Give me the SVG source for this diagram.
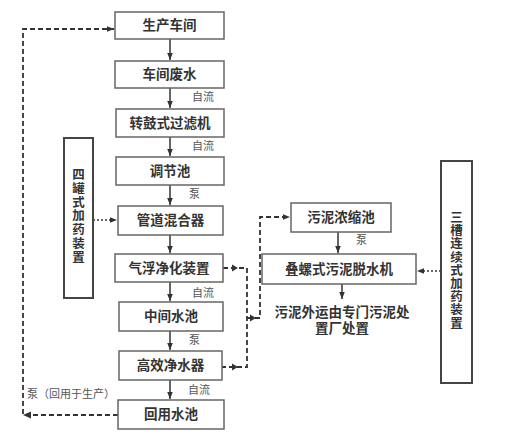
<svg xmlns="http://www.w3.org/2000/svg" width="505" height="445" viewBox="0 0 505 445">
<style>
.box{fill:#fff;stroke:#666;stroke-width:1.5}
.vbox{fill:#fff;stroke:#444;stroke-width:2}
.t{font-family:"Liberation Sans","Noto Sans CJK SC",sans-serif;font-size:13.5px;font-weight:bold;fill:#333;text-anchor:middle;dominant-baseline:central}
.vt{font-family:"Liberation Sans","Noto Sans CJK SC",sans-serif;font-size:12.5px;font-weight:bold;fill:#333;text-anchor:middle;dominant-baseline:central}
.lb{font-family:"Liberation Sans","Noto Sans CJK SC",sans-serif;font-size:11px;fill:#555;dominant-baseline:central}
.ar{fill:none;stroke:#333;stroke-width:1.5}
.dash{fill:none;stroke:#333;stroke-width:1.8;stroke-dasharray:5 3}
.dot{fill:none;stroke:#333;stroke-width:1.5;stroke-dasharray:2 2}
.head{fill:#333}
</style>
<defs>
<marker id="ah" viewBox="0 0 10 10" refX="10" refY="5" markerWidth="7" markerHeight="7" markerUnits="userSpaceOnUse" orient="auto">
<path d="M0,1 L10,5 L0,9 Z" fill="#333"/>
</marker>
</defs>
<g id="connectors">
<line class="ar" x1="170" y1="39" x2="170" y2="60" marker-end="url(#ah)"/>
<line class="ar" x1="170" y1="88" x2="170" y2="108" marker-end="url(#ah)"/>
<line class="ar" x1="170" y1="137" x2="170" y2="156" marker-end="url(#ah)"/>
<line class="ar" x1="170" y1="185" x2="170" y2="205" marker-end="url(#ah)"/>
<line class="ar" x1="170" y1="235" x2="170" y2="253" marker-end="url(#ah)"/>
<line class="ar" x1="170" y1="282" x2="170" y2="301" marker-end="url(#ah)"/>
<line class="ar" x1="170" y1="331" x2="170" y2="350" marker-end="url(#ah)"/>
<line class="ar" x1="170" y1="380" x2="170" y2="399" marker-end="url(#ah)"/>
<line class="ar" x1="338" y1="232" x2="338" y2="253" marker-end="url(#ah)"/>
<line class="ar" x1="342" y1="284" x2="342" y2="299" marker-end="url(#ah)"/>
<path class="dot" d="M93,220 H117" marker-end="url(#ah)"/>
<path class="dot" d="M441,271 H417" marker-end="url(#ah)"/>
<path class="dash" d="M118,415 H23 V29 H114" marker-end="url(#ah)"/>
<path class="head" d="M23,415 L31,411.5 L31,418.5 Z"/>
<path class="dash" d="M223,268 H247 V367 H222"/>
<path class="dash" d="M247,318 H260 V217 H290" marker-end="url(#ah)"/>
<path class="head" d="M238,268 L232,264.5 L232,271.5 Z"/>
<path class="head" d="M238,367 L232,363.5 L232,370.5 Z"/>
<path class="head" d="M256,318 L250,314.5 L250,321.5 Z"/>
</g>
<g id="n1"><rect class="box" x="115" y="12" width="109" height="27"/><text class="t" x="169.5" y="25.5">生产车间</text></g>
<g id="n2"><rect class="box" x="115" y="61" width="109" height="27"/><text class="t" x="169.5" y="74.5">车间废水</text></g>
<g id="n3"><rect class="box" x="116" y="109" width="108" height="28"/><text class="t" x="170" y="123">转鼓式过滤机</text></g>
<g id="n4"><rect class="box" x="116" y="157" width="108" height="28"/><text class="t" x="170" y="171">调节池</text></g>
<g id="n5"><rect class="box" x="118" y="206" width="105" height="29"/><text class="t" x="170.5" y="220.5">管道混合器</text></g>
<g id="n6"><rect class="box" x="115" y="254" width="108" height="28"/><text class="t" x="169" y="268">气浮净化装置</text></g>
<g id="n7"><rect class="box" x="119" y="302" width="104" height="29"/><text class="t" x="171" y="316.5">中间水池</text></g>
<g id="n8"><rect class="box" x="119" y="351" width="103" height="29"/><text class="t" x="170.5" y="365.5">高效净水器</text></g>
<g id="n9"><rect class="box" x="118" y="400" width="106" height="29"/><text class="t" x="171" y="414.5">回用水池</text></g>
<g id="n10"><rect class="box" x="291" y="203" width="100" height="29"/><text class="t" x="341" y="217.5">污泥浓缩池</text></g>
<g id="n11"><rect class="box" x="262" y="254" width="154" height="30"/><text class="t" x="339" y="269">叠螺式污泥脱水机</text></g>
<g id="n12"><text class="t" x="342" y="312">污泥外运由专门污泥处</text><text class="t" x="342" y="328">置厂处置</text></g>
<g id="n13"><rect class="vbox" x="64" y="138" width="29" height="160"/>
<text class="vt" x="78.5" y="175"><tspan x="78.5" y="175">四</tspan><tspan x="78.5" y="188.8">罐</tspan><tspan x="78.5" y="202.6">式</tspan><tspan x="78.5" y="216.4">加</tspan><tspan x="78.5" y="230.2">药</tspan><tspan x="78.5" y="244">装</tspan><tspan x="78.5" y="257.8">置</tspan></text></g>
<g id="n14"><rect class="vbox" x="441" y="161" width="31" height="222"/>
<text class="vt" x="456.5" y="218"><tspan x="456.5" y="218">三</tspan><tspan x="456.5" y="231.2">槽</tspan><tspan x="456.5" y="244.4">连</tspan><tspan x="456.5" y="257.6">续</tspan><tspan x="456.5" y="270.8">式</tspan><tspan x="456.5" y="284">加</tspan><tspan x="456.5" y="297.2">药</tspan><tspan x="456.5" y="310.4">装</tspan><tspan x="456.5" y="323.6">置</tspan></text></g>
<g id="labels">
<text class="lb" x="192" y="97">自流</text>
<text class="lb" x="192" y="146">自流</text>
<text class="lb" x="189" y="194">泵</text>
<text class="lb" x="192" y="293">自流</text>
<text class="lb" x="189" y="340">泵</text>
<text class="lb" x="188" y="390">自流</text>
<text class="lb" x="356" y="240">泵</text>
<text class="lb" x="27" y="394">泵（回用于生产）</text>
</g>
</svg>
